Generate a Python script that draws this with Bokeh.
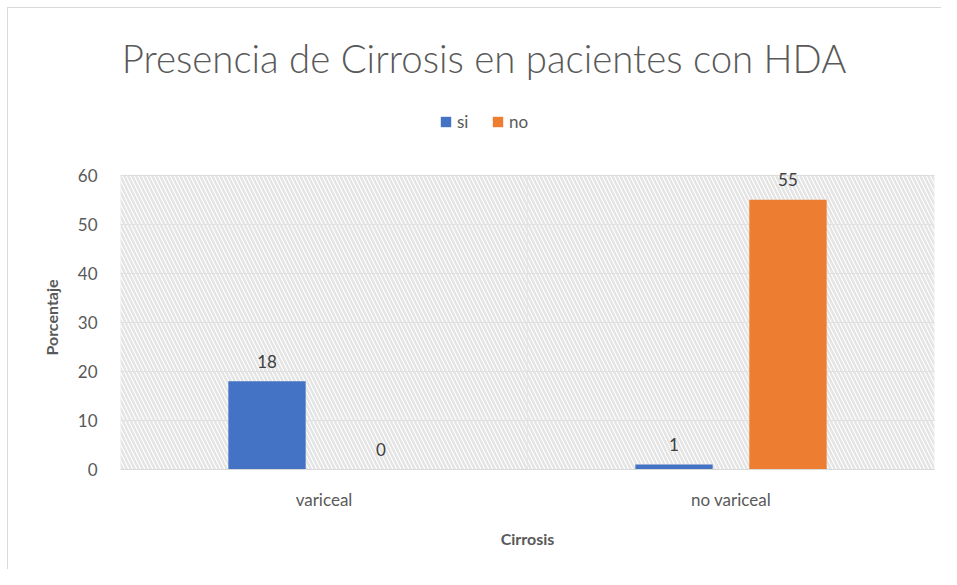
from bokeh.plotting import figure
from bokeh.models import (ColumnDataSource, FactorRange, Range1d, Legend, LegendItem, LabelSet,
                          BoxAnnotation, Label)
from bokeh.layouts import column
from bokeh.core.properties import value
from bokeh.transform import dodge
from bokeh.embed import file_html
from bokeh.resources import INLINE

categories = ["variceal", "no variceal"]
series = ["si", "no"]
si_values = [18, 1]
no_values = [0, 55]
y_ticks = [0, 10, 20, 30, 40, 50, 60]
colors = ["#4472C4", "#ED7D31"]

FONT = "Lato"
GRAY = "#595959"

source = ColumnDataSource(data=dict(cat=categories, si=si_values, no=no_values,
                                    si_txt=[str(v) for v in si_values],
                                    no_txt=[str(v) for v in no_values]))

# ---------- main chart ----------
p = figure(x_range=FactorRange(*categories), y_range=Range1d(0, 62),
           width=941, height=404, output_backend="svg", toolbar_location=None,
           min_border_left=120, min_border_right=7, min_border_top=0, min_border_bottom=100)
p.title = None
p.background_fill_color = "white"
p.border_fill_alpha = 0
p.outline_line_color = None

for lo, hi in ((0, 1), (1, 2)):
    p.add_layout(BoxAnnotation(left=lo, right=hi, bottom=0, top=60,
                               fill_alpha=0, line_color="#d9d9d9", line_width=1,
                               hatch_pattern="\\", hatch_color="#e4e4e4",
                               hatch_scale=8, hatch_weight=2.5, level="underlay"))

p.vbar(x=dodge("cat", -0.14, range=p.x_range), top="si", width=0.19, source=source,
       color=colors[0], line_color=None)
p.vbar(x=dodge("cat", 0.14, range=p.x_range), top="no", width=0.19, source=source,
       color=colors[1], line_color=None)

for col, off in (("si", -0.14), ("no", 0.14)):
    ls = LabelSet(x=dodge("cat", off, range=p.x_range), y=col, text=col + "_txt", source=source,
                  y_offset=20, text_align="center", text_baseline="middle",
                  text_font=value(FONT), text_font_size=value("17px"), text_color="#404040")
    p.add_layout(ls)

p.ygrid.grid_line_color = "#d9d9d9"
p.ygrid.grid_line_width = 1
p.xgrid.grid_line_color = None

p.yaxis.ticker = y_ticks
p.yaxis.axis_line_color = None
p.yaxis.major_tick_line_color = None
p.yaxis.minor_tick_line_color = None
p.yaxis.major_label_standoff = 17
p.yaxis.major_label_text_font = FONT
p.yaxis.major_label_text_font_size = "17px"
p.yaxis.major_label_text_color = GRAY
p.yaxis.axis_label = "Porcentaje"
p.yaxis.axis_label_text_font = FONT
p.yaxis.axis_label_text_font_size = "16px"
p.yaxis.axis_label_text_font_style = "bold"
p.yaxis.axis_label_text_color = GRAY
p.yaxis.axis_label_standoff = 14

p.xaxis.axis_line_color = "#d9d9d9"
p.xaxis.major_tick_line_color = None
p.xaxis.minor_tick_line_color = None
p.xaxis.major_label_standoff = 13
p.xaxis.major_label_text_font = FONT
p.xaxis.major_label_text_font_size = "17px"
p.xaxis.major_label_text_color = GRAY
p.xaxis.axis_label = "Cirrosis"
p.xaxis.axis_label_text_font = FONT
p.xaxis.axis_label_text_font_size = "16px"
p.xaxis.axis_label_text_font_style = "bold"
p.xaxis.axis_label_text_color = GRAY
p.xaxis.axis_label_standoff = 16

# ---------- header: title + legend ----------
h = figure(width=941, height=165, x_range=Range1d(0, 1), y_range=Range1d(0, 1),
           output_backend="svg", toolbar_location=None, x_axis_type=None, y_axis_type=None,
           min_border=0)
h.title = None
h.grid.visible = False
h.outline_line_color = None
h.background_fill_alpha = 0
h.border_fill_alpha = 0

proxy = ColumnDataSource(data=dict(x=[0], top=[0]))
proxies = [h.vbar(x="x", top="top", width=0, source=proxy, color=c, line_color=None)
           for c in colors]

h.add_layout(Label(x=363.5, y=108, x_units="screen", y_units="screen",
                   text="Presencia de Cirrosis en pacientes con HDA",
                   text_font="Lato Light", text_font_size="38.4px", text_color=GRAY,
                   text_align="center", text_baseline="middle"))

legend = Legend(items=[LegendItem(label=s, renderers=[r]) for s, r in zip(series, proxies)],
                orientation="horizontal", location=(319, 33),
                padding=0, margin=0, spacing=14, label_standoff=5,
                glyph_width=13, glyph_height=13, label_height=20,
                label_text_font=FONT, label_text_font_size="17px", label_text_color=GRAY,
                border_line_color=None, background_fill_alpha=0)
h.add_layout(legend, "center")

root = column(h, p, spacing=0,
              styles={"box-shadow": "inset 7px 7px 0 0 white, inset 8px 8px 0 0 #d9d9d9"})

open("out.html", "w").write(file_html(root, INLINE))
